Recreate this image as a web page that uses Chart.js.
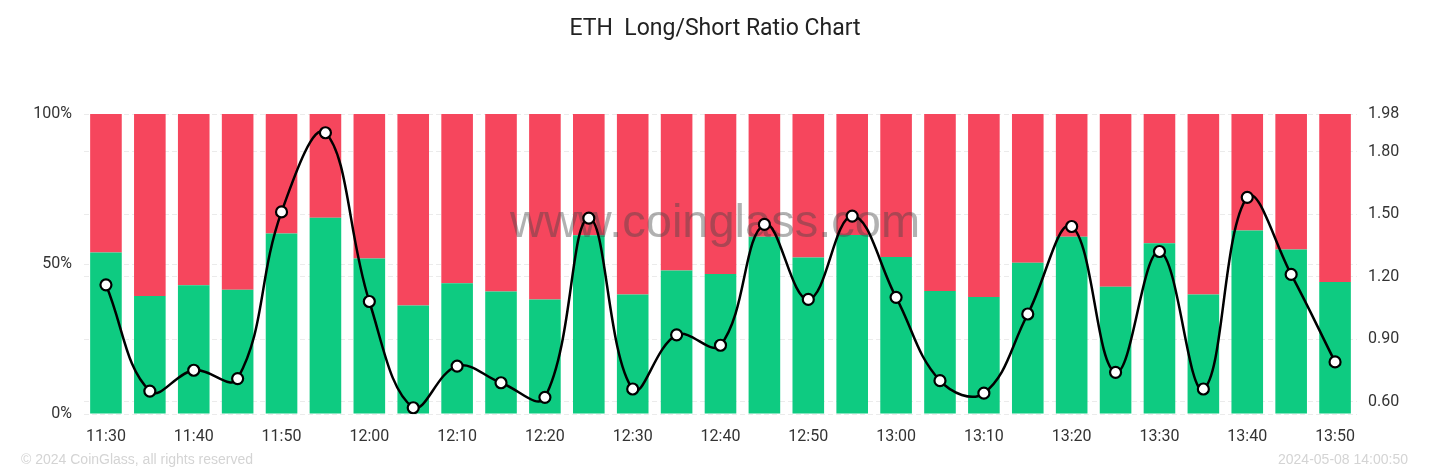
<!DOCTYPE html>
<html>
<head>
<meta charset="utf-8">
<script src="https://cdn.jsdelivr.net/npm/chart.js@4.4.1/dist/chart.umd.min.js"></script>
<style>
  html, body { margin: 0; padding: 0; background: #fff; }
  #wrap { position: relative; width: 1430px; height: 472px; }
  #c { position: absolute; left: 0; top: 0; }
  .foot { position: absolute; font-family: "Liberation Sans", Arial, sans-serif; font-size: 14px; color: #d4d4d4; top: 450px; line-height: 18px; }
</style>
</head>
<body>
<div id="wrap">
  <canvas id="c" width="1430" height="472"></canvas>
  <div class="foot" style="left:21px;">© 2024 CoinGlass, all rights reserved</div>
  <div class="foot" style="right:22px;">2024-05-08 14:00:50</div>
</div>
<script>
const categories = ["11:30","11:35","11:40","11:45","11:50","11:55","12:00","12:05","12:10","12:15","12:20","12:25","12:30","12:35","12:40","12:45","12:50","12:55","13:00","13:05","13:10","13:15","13:20","13:25","13:30","13:35","13:40","13:45","13:50"];
const longPct = [53.8,39.3,42.9,41.4,60.2,65.4,51.8,36.2,43.6,40.8,38.2,59.6,39.8,47.8,46.7,59.1,52.2,59.7,52.3,41.0,39.0,50.4,59.1,42.4,56.9,39.8,61.2,54.8,44.0];
const shortPct = longPct.map(v => +(100 - v).toFixed(1));
const ratio = [1.16,0.65,0.75,0.71,1.51,1.89,1.08,0.57,0.77,0.69,0.62,1.48,0.66,0.92,0.87,1.45,1.09,1.49,1.10,0.70,0.64,1.02,1.44,0.74,1.32,0.66,1.58,1.21,0.79];
const leftTicks = [0, 50, 100];
const rightTicks = [0.60, 0.90, 1.20, 1.50, 1.80, 1.98];
const rightMin = 0.54, rightMax = 1.98;

const tickFont = { family: "Roboto, 'Noto Sans', sans-serif", size: 16 };
const gridCfg = { color: '#ebebeb', lineWidth: 1, drawTicks: false };

const watermark = {
  id: 'watermark',
  beforeDatasetDraw(chart, args) {
    if (args.index !== 2) return;
    const ctx = chart.ctx;
    ctx.save();
    ctx.font = "47px 'Liberation Sans', Arial, sans-serif";
    ctx.fillStyle = 'rgba(70,70,70,0.42)';
    ctx.textAlign = 'center';
    ctx.textBaseline = 'alphabetic';
    ctx.fillText('www.coinglass.com', 715, 237);
    ctx.restore();
  }
};

new Chart(document.getElementById('c'), {
  data: {
    labels: categories,
    datasets: [
      { type: 'bar', label: 'Long', data: longPct, backgroundColor: '#0ECB81', yAxisID: 'y', stack: 's', order: 1, borderWidth: 0 },
      { type: 'bar', label: 'Short', data: shortPct, backgroundColor: '#F6465D', yAxisID: 'y', stack: 's', order: 1, borderWidth: 0 },
      { type: 'line', label: 'Ratio', data: ratio, yAxisID: 'y1', order: 0, borderColor: '#000', borderWidth: 2.5, tension: 0.4,
        pointRadius: 5.5, pointHoverRadius: 5.5, pointBorderWidth: 2.2, pointBackgroundColor: '#fff', pointBorderColor: '#000' }
    ]
  },
  options: {
    responsive: false,
    devicePixelRatio: 1,
    animation: false,
    layout: { padding: 0 },
    plugins: {
      legend: { display: false },
      tooltip: { enabled: false },
      title: {
        display: true,
        text: 'ETH  Long/Short Ratio Chart',
        color: '#222',
        font: { family: "Roboto, 'Noto Sans', sans-serif", size: 23, weight: 'normal' },
        padding: { top: 15, bottom: 71.4 }
      }
    },
    scales: {
      x: {
        stacked: true,
        grid: { display: false },
        border: { display: false },
        ticks: {
          autoSkip: false, maxRotation: 0, color: '#333', font: tickFont, padding: 5,
          callback: function(v, i) { return i % 2 === 0 ? this.getLabelForValue(v) : ''; }
        },
        afterFit(s) { s.height = 58; }
      },
      y: {
        position: 'left', stacked: true, min: 0, max: 100,
        grid: Object.assign({}, gridCfg),
        border: { display: false, dash: [5, 3] },
        ticks: { color: '#333', font: tickFont, padding: 12, callback: v => v + '%' },
        afterBuildTicks(s) { s.ticks = leftTicks.map(v => ({ value: v })); },
        afterFit(s) { s.width = 84; }
      },
      y1: {
        position: 'right', min: rightMin, max: rightMax,
        grid: Object.assign({}, gridCfg),
        border: { display: false, dash: [5, 3] },
        ticks: { color: '#333', font: tickFont, padding: 11, callback: v => Number(v).toFixed(2) },
        afterBuildTicks(s) { s.ticks = rightTicks.map(v => ({ value: v })); },
        afterFit(s) { s.width = 73; }
      }
    }
  },
  plugins: [watermark]
});
</script>
</body>
</html>
